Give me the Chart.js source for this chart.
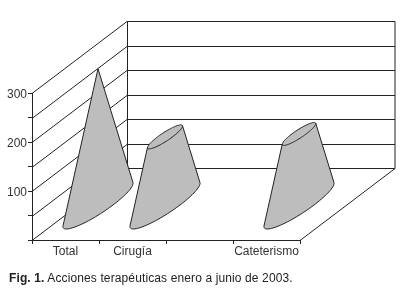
<!DOCTYPE html>
<html>
<head>
<meta charset="utf-8">
<script src="https://cdn.jsdelivr.net/npm/chart.js@4"></script>
<style>
  body { margin: 0; background: #fff; }
  #wrap { position: relative; width: 404px; height: 300px; overflow: hidden; }
  #caption { position: absolute; left: 9px; top: 271px; font: 12px "Liberation Sans", Arial, sans-serif; letter-spacing: 0.12px; color: #222; white-space: nowrap; }
</style>
</head>
<body>
<div id="wrap">
  <canvas id="myChart" width="404" height="300"></canvas>
  <div id="caption"><b>Fig. 1.</b> Acciones terapéuticas enero a junio de 2003.</div>
</div>
<script>
const categories = ['Total', 'Cirugía', '', 'Cateterismo'];
const acciones = [278, 139, null, 145];
const yLabels = [100, 200, 300];

const depthX = 95, depthY = 72;

// back walls and floor, follows the y scale ticks
const walls = {
  id: 'walls',
  beforeDatasetsDraw(chart) {
    const { ctx, scales: { x, y } } = chart;
    ctx.save();
    ctx.strokeStyle = '#222';
    ctx.lineWidth = 1;
    ctx.beginPath();
    y.ticks.forEach(t => {
      const py = Math.round(y.getPixelForValue(t.value)) + 0.5;
      ctx.moveTo(x.left, py);
      ctx.lineTo(x.left + depthX, py - depthY);
      ctx.lineTo(x.right + depthX, py - depthY);
    });
    const top = Math.round(y.getPixelForValue(300)) + 0.5 - depthY;
    const bottom = Math.round(y.getPixelForValue(0)) + 0.5;
    ctx.moveTo(x.left + depthX + 0.5, top);
    ctx.lineTo(x.left + depthX + 0.5, bottom - depthY);
    ctx.moveTo(x.right + depthX, top);
    ctx.lineTo(x.right + depthX, bottom - depthY);
    ctx.lineTo(x.right, bottom);
    ctx.stroke();
    ctx.restore();
  }
};

// excel style cones, placed from the (invisible) bar elements
const cones = {
  id: 'cones',
  afterDatasetsDraw(chart) {
    const { ctx, scales: { y } } = chart;
    const meta = chart.getDatasetMeta(0);
    const vals = chart.data.datasets[0].data;
    const maxVal = Math.max(...vals.filter(v => v !== null));
    const unit = y.getPixelForValue(0) - y.getPixelForValue(1);
    const a = 15, dx = 31.7, dy = 24;
    const shiftX = 32.5, shiftY = -35;

    meta.data.forEach((bar, i) => {
      if (vals[i] === null) return;
      const cx = bar.x + shiftX;
      const cy = y.getPixelForValue(0) + shiftY;
      const H = maxVal * unit;
      const s = 1 - vals[i] / maxVal;
      const px = (t, k) => cx + k * (a * Math.cos(t) + dx * Math.sin(t));
      const py = (t, k) => cy - (1 - k) * H - k * dy * Math.sin(t);

      // tangent points from the apex onto the base ellipse
      const beta = H / dy, alpha = -dx * beta / a;
      const phi = Math.atan2(beta, alpha), off = Math.acos(1 / Math.hypot(alpha, beta));
      const t1 = phi - off, t2 = phi + off;

      ctx.save();
      ctx.fillStyle = '#bdbdbd';
      ctx.strokeStyle = '#222';
      ctx.lineWidth = 1;
      ctx.lineJoin = 'round';
      ctx.beginPath();
      // base arc goes round the front, top arc round the back (a point when s is 0)
      for (let n = 0; n <= 48; n++) {
        const t = t2 + (t1 + 2 * Math.PI - t2) * n / 48;
        ctx.lineTo(px(t, 1), py(t, 1));
      }
      for (let n = 0; n <= 48; n++) {
        const t = t1 + (t2 - t1) * n / 48;
        ctx.lineTo(px(t, s), py(t, s));
      }
      ctx.closePath();
      ctx.fill();
      ctx.stroke();
      if (s > 0) {
        ctx.beginPath();
        for (let n = 0; n <= 48; n++) {
          const t = t2 + (t1 + 2 * Math.PI - t2) * n / 48;
          ctx.lineTo(px(t, s), py(t, s));
        }
        ctx.stroke();
      }
      ctx.restore();
    });
  }
};

new Chart(document.getElementById('myChart'), {
  type: 'bar',
  data: {
    labels: categories,
    datasets: [{ label: 'Acciones', data: acciones, backgroundColor: 'transparent', borderWidth: 0 }]
  },
  options: {
    responsive: false,
    animation: false,
    events: [],
    layout: { padding: { left: 0, right: 104, top: 93, bottom: 0 } },
    plugins: { legend: { display: false }, tooltip: { enabled: false }, title: { display: false } },
    scales: {
      x: {
        afterFit: s => { s.height = 60; },
        grid: { drawOnChartArea: false, tickLength: 4, color: '#222' },
        border: { color: '#222' },
        ticks: { color: '#333', font: { family: '"Liberation Sans", Arial', size: 12 }, padding: 0, maxRotation: 0, autoSkip: false }
      },
      y: {
        min: 0,
        max: 300,
        afterFit: s => { s.width = 32; },
        grid: { drawOnChartArea: false, tickLength: 4, color: '#222' },
        border: { color: '#222' },
        ticks: {
          stepSize: 50,
          autoSkip: false,
          color: '#333',
          padding: 1,
          // empty first line + small lineHeight nudges the label 2px below its tick
          font: { family: '"Liberation Sans", Arial', size: 12, lineHeight: '4px' },
          callback: v => yLabels.includes(v) ? ['', String(v)] : ''
        }
      }
    }
  },
  plugins: [walls, cones]
});
</script>
</body>
</html>
